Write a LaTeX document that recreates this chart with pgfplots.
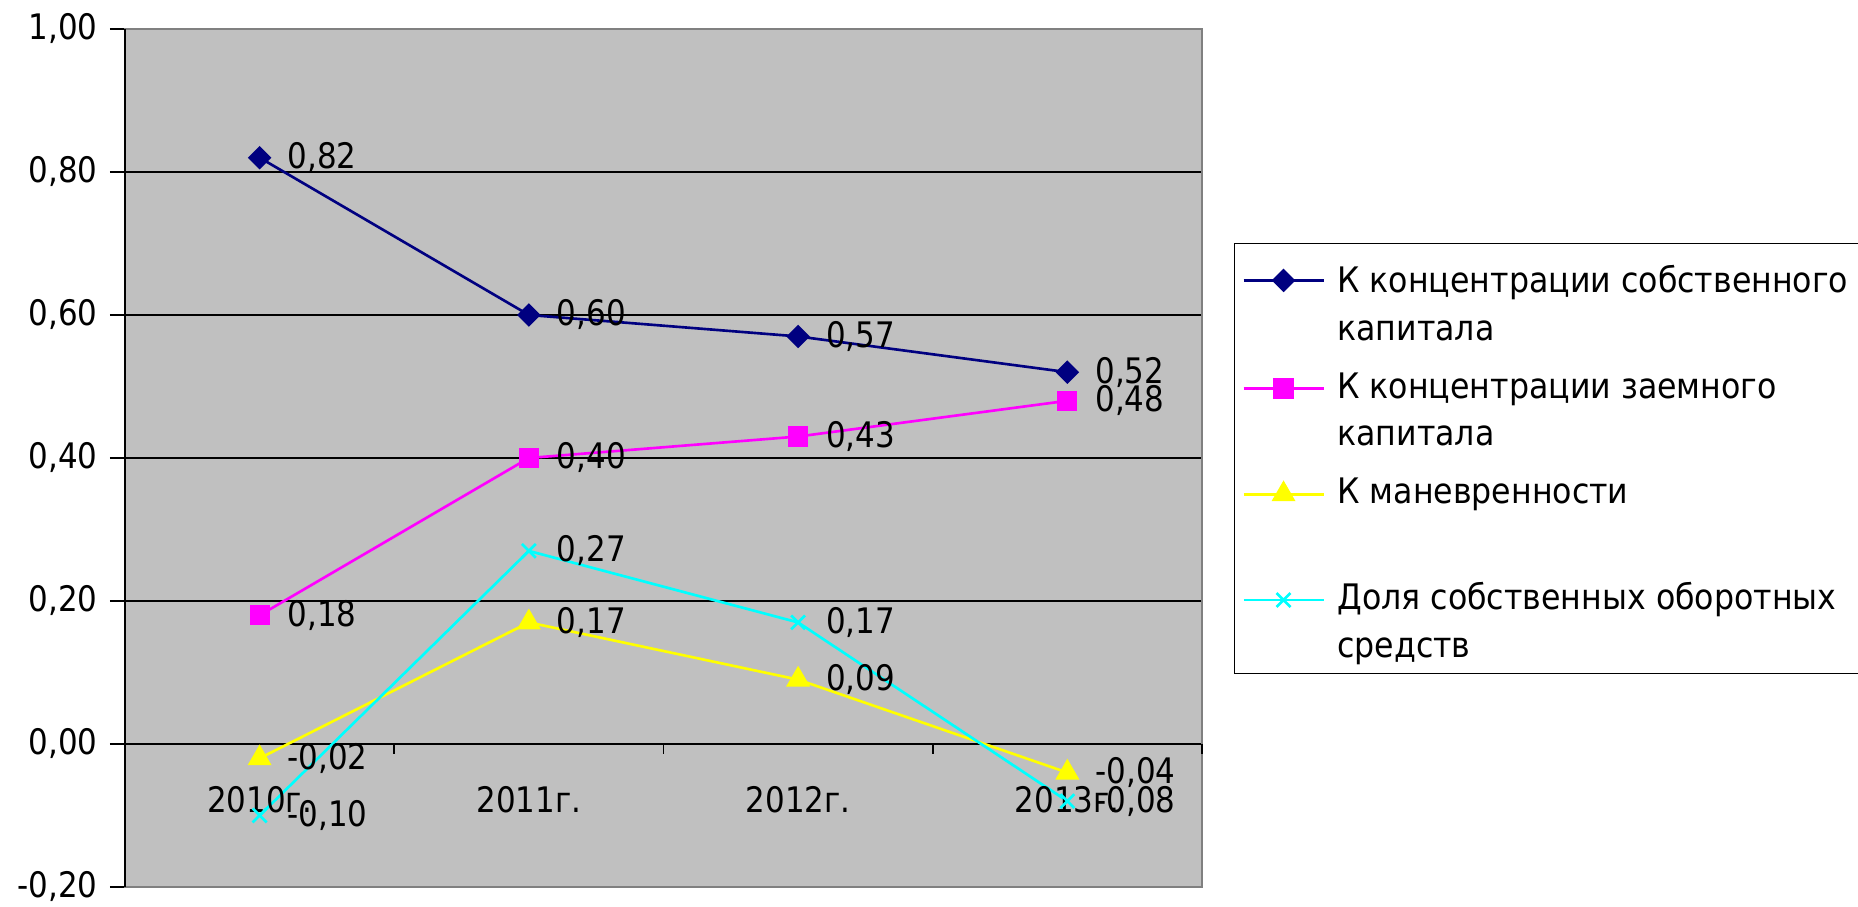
\documentclass[border=0pt]{standalone}
\usepackage{fontspec}
\setmainfont[FakeStretch=0.88]{DejaVu Sans}
\newfontfamily\legfont[FakeStretch=0.9]{DejaVu Sans}
\usepackage{pgfplots}
\pgfplotsset{compat=1.18}

\definecolor{xlnavy}{RGB}{0,0,128}
\definecolor{xlmag}{RGB}{255,0,255}
\definecolor{xlyel}{RGB}{255,255,0}
\definecolor{xlcyan}{RGB}{0,255,255}
\definecolor{xlbg}{RGB}{192,192,192}
\definecolor{xlframe}{RGB}{128,128,128}

\begin{document}
\begin{tikzpicture}
\useasboundingbox (0,0) rectangle (18.58cm,9.07cm);
\begin{axis}[
  at={(1.25cm,0.20cm)}, anchor=south west,
  scale only axis, width=10.77cm, height=8.58cm,
  xmin=-0.5, xmax=3.5, ymin=-0.2, ymax=1.0,
  xtick=\empty,
  ytick={-0.2,0,0.2,0.4,0.6,0.8,1.0},
  yticklabels={{-0,20},{0,00},{0,20},{0,40},{0,60},{0,80},{1,00}},
  ytick pos=left,
  tick align=outside, major tick length=0.15cm,
  tick style={black, line width=0.5pt},
  ymajorgrids, grid style={black, line width=0.5pt},
  axis background/.style={fill=xlbg},
  axis line style={xlframe, line width=0.8pt},
  clip=false,
  nodes near coords, point meta=explicit symbolic,
  every node near coord/.append style={anchor=west, xshift=0.15cm, text=black},
  legend cell align=left,
  legend image code/.code={
    \draw[mark repeat=2, mark phase=2, #1] plot coordinates {(0cm,0cm) (0.4cm,0cm) (0.8cm,0cm)};
  },
  legend style={at={(1.0297,0.7506)}, anchor=north west, draw=black, fill=white,
    font=\legfont, inner xsep=2.15pt, inner ysep=3pt, row sep=0pt,
    /tikz/every odd column/.append style={column sep=2pt},
    nodes={inner sep=1.55pt, text height=8pt, text depth=2.5pt}},
]
% К концентрации собственного капитала
\addplot[xlnavy, line width=0.75pt, mark=square*, mark size=2pt,
  mark options={rotate=45, fill=xlnavy}] coordinates {
  (0,0.82) [0,82]
  (1,0.60) [0,60]
  (2,0.57) [0,57]
  (3,0.52) [0,52]
};
\addlegendentry[text height=9.3pt]{К концентрации собственного}
\addlegendimage{empty legend}
\addlegendentry[text depth=5.4pt]{капитала}

% К концентрации заемного капитала
\addplot[xlmag, line width=0.75pt, mark=square*, mark size=2.5pt,
  mark options={fill=xlmag}] coordinates {
  (0,0.18) [0,18]
  (1,0.40) [0,40]
  (2,0.43) [0,43]
  (3,0.48) [0,48]
};
\addlegendentry{К концентрации заемного}
\addlegendimage{empty legend}
\addlegendentry[text depth=5.4pt]{капитала}

% К маневренности
\addplot[xlyel, line width=0.75pt, mark=triangle*, mark size=3.2pt,
  mark options={fill=xlyel}] coordinates {
  (0,-0.02) [-0,02]
  (1,0.17)  [0,17]
  (2,0.09)  [0,09]
  (3,-0.04) [-0,04]
};
\addlegendentry{К маневренности}
\addlegendimage{empty legend}
\addlegendentry[text depth=5.4pt]{}

% Доля собственных оборотных средств
\addplot[xlcyan, line width=0.75pt, mark=x, mark size=2.8pt] coordinates {
  (0,-0.10) [-0,10]
  (1,0.27)  [0,27]
  (2,0.17)  [0,17]
  (3,-0.08) [-0,08]
};
\addlegendentry{Доля собственных оборотных}
\addlegendimage{empty legend}
\addlegendentry[text depth=0pt]{средств}

% ось категорий на нуле
\draw[black, line width=0.8pt] (axis cs:-0.5,-0.2) -- (axis cs:-0.5,1.0);
\pgfplotsinvokeforeach{0.5,1.5,2.5,3.5}{
  \draw[black, line width=0.5pt] (axis cs:#1,0) -- ++(0pt,-0.1cm);
}
\node at (axis cs:0,0) [yshift=-0.56cm] {2010г.};
\node at (axis cs:1,0) [yshift=-0.56cm] {2011г.};
\node at (axis cs:2,0) [yshift=-0.56cm] {2012г.};
\node at (axis cs:3,0) [yshift=-0.56cm] {2013г.};
\end{axis}
\end{tikzpicture}
\end{document}
